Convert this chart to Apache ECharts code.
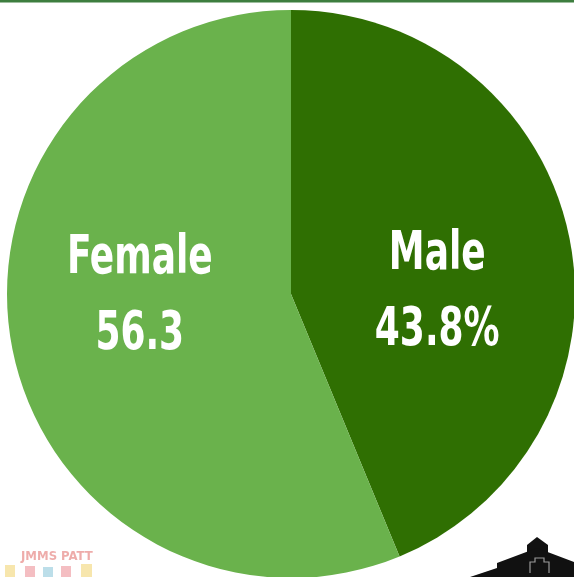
<!DOCTYPE html>
<html><head><meta charset="utf-8">
<script src="https://cdn.jsdelivr.net/npm/echarts@6/dist/echarts.min.js"></script>
<style>html,body{margin:0;padding:0;background:#fff}#c{width:574px;height:577px}</style>
</head><body><div id="c"></div>
<script>
const categories = ['Male', 'Female'];
const values = [43.8, 56.3];
const labelTexts = ['Male\n43.8%', 'Female\n56.3'];
const colors = ['#2f6f02', '#6ab24c'];

const chart = echarts.init(document.getElementById('c'));
const offsets = [[4, 27], [-9, -25]];
chart.setOption({
  animation: false,
  series: [{
    type: 'pie',
    center: [291, 294],
    radius: [0, 284],
    startAngle: 90,
    clockwise: true,
    label: {
      show: true,
      position: 'inside',
      color: '#fff',
      fontFamily: '"DejaVu Sans Condensed", sans-serif',
      fontWeight: 'bold',
      fontSize: 54,
      lineHeight: 76
    },
    labelLine: { show: false },
    emphasis: { disabled: true },
    data: categories.map((c, i) => ({
      name: c, value: values[i],
      itemStyle: { color: colors[i] },
      label: { formatter: labelTexts[i], offset: offsets[i] }
    }))
  }],
  graphic: [
    { type: 'rect', shape: { x: 0, y: 0, width: 574, height: 2.5 }, style: { fill: '#3d7e3f' } },
    { type: 'text', left: 21, top: 550, style: { text: 'JMMS PATT', fill: '#e8908e', opacity: 0.75, font: 'bold 13px "DejaVu Sans Condensed", sans-serif' } },
    { type: 'rect', shape: { x: 5, y: 565, width: 10, height: 12 }, style: { fill: '#f3dc8a', opacity: 0.7 } },
    { type: 'rect', shape: { x: 25, y: 566, width: 10, height: 11 }, style: { fill: '#f0a3a8', opacity: 0.7 } },
    { type: 'rect', shape: { x: 43, y: 567, width: 10, height: 10 }, style: { fill: '#9fd0e0', opacity: 0.7 } },
    { type: 'rect', shape: { x: 61, y: 566, width: 10, height: 11 }, style: { fill: '#f0a3a8', opacity: 0.7 } },
    { type: 'rect', shape: { x: 81, y: 564, width: 11, height: 13 }, style: { fill: '#f3dc8a', opacity: 0.7 } },
    { type: 'polygon', shape: { points: [[527,556],[527,545],[537,537],[548,545],[548,556]] }, style: { fill: '#111' } },
    { type: 'polygon', shape: { points: [[470,577],[497,568],[497,563],[537,548],[574,562],[574,577]] }, style: { fill: '#111' } },
    { type: 'polyline', shape: { points: [[530,573],[530,562],[535,562],[535,558],[544,558],[544,562],[549,562],[549,573]] }, style: { stroke: '#999', lineWidth: 1.2, fill: null } }
  ]
});
// narrow the label glyphs horizontally to mimic the condensed typeface
const data = chart.getModel().getSeriesByIndex(0).getData();
data.each(function (i) {
  const el = data.getItemGraphicEl(i);
  const t = el && el.getTextContent();
  if (t) { t.scaleX = 0.74; t.markRedraw(); }
});
chart.getZr().refreshImmediately();
</script></body></html>
